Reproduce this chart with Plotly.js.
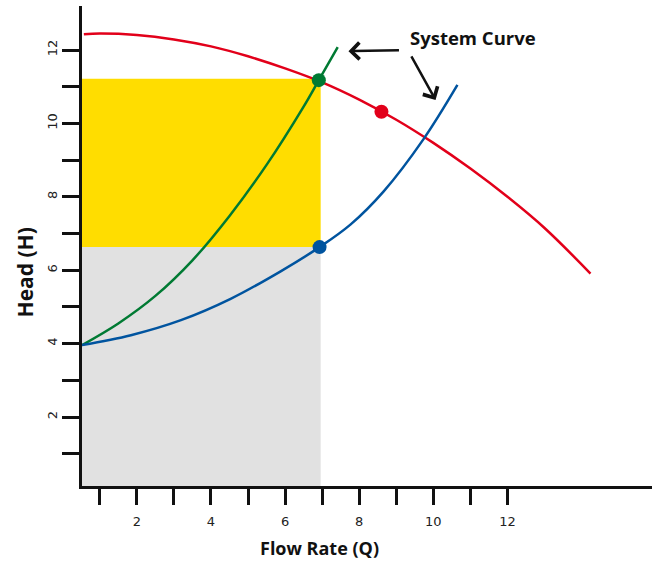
<!DOCTYPE html>
<html>
<head>
<meta charset="utf-8">
<script src="https://cdn.plot.ly/plotly-3.0.1.min.js"></script>
<style>html,body{margin:0;padding:0;background:#fff;}#chart{width:660px;height:562px;}</style>
</head>
<body>
<div id="chart"></div>
<script>
// Pump curve (red)
const pumpQ = [0.57, 1.0, 2.0, 3.0, 4.0, 5.0, 6.0, 7.0, 8.0, 9.0, 10.0, 11.0, 12.0, 13.0, 14.24];
const pumpH = [12.43, 12.45, 12.41, 12.29, 12.10, 11.83, 11.50, 11.12, 10.65, 10.10, 9.47, 8.77, 8.00, 7.15, 5.91];
// System curve 1 (green)
const sys1Q = [0.52, 1.5, 2.5, 3.5, 4.5, 5.5, 6.5, 6.91, 7.42];
const sys1H = [3.96, 4.55, 5.30, 6.27, 7.48, 8.87, 10.46, 11.18, 12.08];
// System curve 2 (blue)
const sys2Q = [0.52, 1.84, 3.19, 4.53, 5.88, 6.93, 7.77, 8.66, 9.74, 10.65];
const sys2H = [3.96, 4.23, 4.64, 5.22, 5.97, 6.63, 7.25, 8.15, 9.58, 11.05];
// Operating points
const opGreen = [6.91, 11.18];
const opBlue = [6.93, 6.63];
const opRed = [8.60, 10.32];
// Shaded regions
const shadeQ = 6.96;
const shadeLowH = 6.63;
const shadeHighH = 11.22;
// Axes
const xRange = [0.52, 15.9];
const yRange = [0.12, 13.2];
const tickVals = [1,2,3,4,5,6,7,8,9,10,11,12];
const tickText = ['', '2', '', '4', '', '6', '', '8', '', '10', '', '12'];

const RED = '#e2001a', GREEN = '#007a33', BLUE = '#00549f';
const YELLOW = '#ffdd00', GRAY = '#e1e1e1';

const traces = [
  {x: pumpQ, y: pumpH, mode: 'lines', line: {color: RED, width: 2.5, shape: 'spline'}, hoverinfo: 'skip'},
  {x: sys1Q, y: sys1H, mode: 'lines', line: {color: GREEN, width: 2.5, shape: 'spline'}, hoverinfo: 'skip'},
  {x: sys2Q, y: sys2H, mode: 'lines', line: {color: BLUE, width: 2.5, shape: 'spline'}, hoverinfo: 'skip'},
  {x: [opGreen[0]], y: [opGreen[1]], mode: 'markers', marker: {color: GREEN, size: 14}},
  {x: [opBlue[0]], y: [opBlue[1]], mode: 'markers', marker: {color: BLUE, size: 14}},
  {x: [opRed[0]], y: [opRed[1]], mode: 'markers', marker: {color: RED, size: 14}}
];

const textFont = {family: 'Open Sans, DejaVu Sans, sans-serif', size: 18, color: '#111'};

const layout = {
  width: 660, height: 562,
  margin: {l: 82, r: 8, t: 6, b: 76},
  paper_bgcolor: '#fff', plot_bgcolor: '#fff',
  showlegend: false,
  xaxis: {
    range: xRange, showgrid: false, zeroline: false,
    showline: true, linecolor: '#111', linewidth: 3,
    ticks: 'outside', ticklen: 16, tickwidth: 3, tickcolor: '#111',
    tickmode: 'array', tickvals: tickVals, ticktext: tickText,
    ticklabelstandoff: 5,
    tickfont: {family: 'DejaVu Sans, sans-serif', size: 13, color: '#222'}
  },
  yaxis: {
    range: yRange, showgrid: false, zeroline: false,
    showline: true, linecolor: '#111', linewidth: 3,
    ticks: 'outside', ticklen: 17, tickwidth: 3, tickcolor: '#111',
    tickmode: 'array', tickvals: tickVals, ticktext: tickText,
    tickangle: -90,
    tickfont: {family: 'DejaVu Sans, sans-serif', size: 13, color: '#222'}
  },
  shapes: [
    {type: 'rect', xref: 'x', yref: 'y', x0: xRange[0], x1: shadeQ, y0: yRange[0], y1: shadeLowH,
     fillcolor: GRAY, line: {width: 0}, layer: 'below'},
    {type: 'rect', xref: 'x', yref: 'y', x0: xRange[0], x1: shadeQ, y0: shadeLowH, y1: shadeHighH,
     fillcolor: YELLOW, line: {width: 0}, layer: 'below'}
  ],
  annotations: [
    {text: '<b>System Curve</b>', xref: 'x', yref: 'y', x: 11.06, y: 12.35, showarrow: false,
     font: {family: 'Open Sans, DejaVu Sans, sans-serif', size: 18.5, color: '#111'},
     xanchor: 'center', yanchor: 'middle'},
    {text: '', xref: 'x', yref: 'y', x: 7.71, y: 11.97, ax: 52, ay: -1, showarrow: true,
     arrowhead: 4, arrowsize: 1.3, arrowwidth: 2.5, arrowcolor: '#111'},
    {text: '', xref: 'x', yref: 'y', x: 10.06, y: 10.64, ax: -25, ay: -45, showarrow: true,
     arrowhead: 4, arrowsize: 1.3, arrowwidth: 2.5, arrowcolor: '#111'},
    {text: '<b>Flow Rate (Q)</b>', xref: 'paper', yref: 'paper', x: 0.416, y: -0.129,
     showarrow: false, xanchor: 'center', yanchor: 'middle', font: textFont},
    {text: '<b>Head (H)</b>', xref: 'paper', yref: 'paper', x: -0.1, y: 0.445,
     showarrow: false, xanchor: 'center', yanchor: 'middle', textangle: -90,
     font: {family: 'Open Sans, DejaVu Sans, sans-serif', size: 21, color: '#111'}}
  ]
};

Plotly.newPlot('chart', traces, layout, {staticPlot: true, displayModeBar: false});
</script>
</body>
</html>
